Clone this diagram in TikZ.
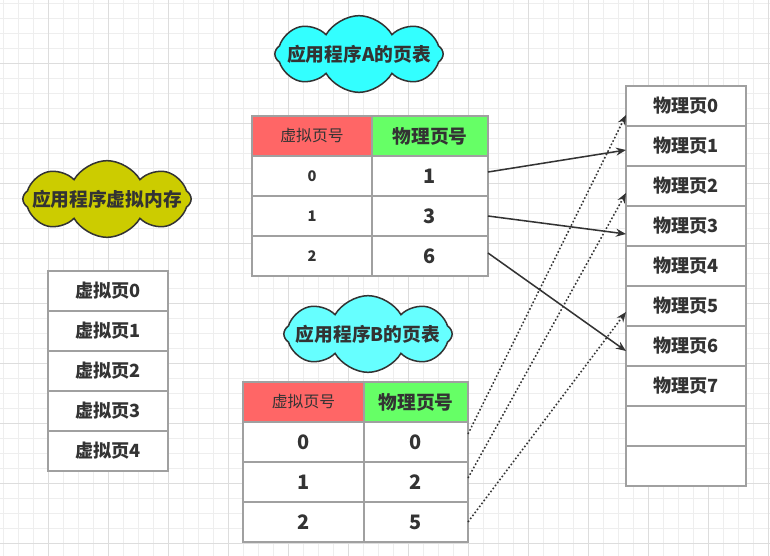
\documentclass[tikz,border=0pt]{standalone}
\usepackage{fontspec}
\setmainfont{Noto Sans CJK SC}
\usetikzlibrary{positioning, shapes.symbols, arrows.meta}

\definecolor{txtgray}{HTML}{333333}
\definecolor{cellline}{HTML}{A0A0A0}
\definecolor{gridminor}{HTML}{EEEEEE}
\definecolor{gridmajor}{HTML}{DDDDDD}
\definecolor{headred}{HTML}{FF6666}
\definecolor{headgreen}{HTML}{66FF66}
\definecolor{cloudcyan}{HTML}{33FFFF}
\definecolor{cloudcyanb}{HTML}{66FFFF}
\definecolor{cloudolive}{HTML}{CCCC00}

\tikzset{
  cell/.style={rectangle, draw=cellline, line width=1.3pt, fill=white,
    minimum width=3.6cm, minimum height=1.2cm, inner sep=0pt, outer sep=0pt,
    text=txtgray, font=\fontsize{15.5}{18}\selectfont\bfseries},
  headv/.style={cell, fill=headred, font=\fontsize{13.5}{16}\selectfont},
  headp/.style={cell, fill=headgreen, font=\fontsize{16}{19}\selectfont\bfseries},
  numbig/.style={cell, font=\fontsize{17}{20}\selectfont\bfseries},
  numsmall/.style={cell, font=\fontsize{12.5}{15}\selectfont\bfseries},
  bubble/.style={cloud, cloud puffs=8, cloud puff arc=120, aspect=2.2,
    draw=txtgray, line width=1.3pt, minimum width=5.05cm,
    minimum height=2.3cm, inner sep=0pt, text=txtgray,
    font=\fontsize{16}{19}\selectfont\bfseries},
  link/.style={draw=txtgray, line width=1.3pt,
    -{Stealth[length=3mm, width=2.4mm]}},
  dotlink/.style={link, dash pattern=on 1.4pt off 1.8pt},
}

\begin{document}
\begin{tikzpicture}[x=0.03cm, y=-0.03cm]

    \useasboundingbox (0,0) rectangle (770,556);
    \fill[white] (0,0) rectangle (770,556);

    % background grid
    \foreach \x in {3,18,...,768}
      \draw[gridminor, line width=0.85pt] (\x,0) -- (\x,556);
    \foreach \y in {3,18,...,553}
      \draw[gridminor, line width=0.85pt] (0,\y) -- (770,\y);
    \foreach \x in {48,108,...,768}
      \draw[gridmajor, line width=0.85pt] (\x,0) -- (\x,556);
    \foreach \y in {63,123,...,543}
      \draw[gridmajor, line width=0.85pt] (0,\y) -- (770,\y);

    % clouds
    \node[bubble, fill=cloudcyan] (cloudA) at (359,54)
      {\makebox[0pt]{应用程序A的页表}};
    \node[bubble, fill=cloudcyanb] (cloudB) at (368,334)
      {\makebox[0pt]{应用程序B的页表}};
    \node[bubble, fill=cloudolive] (cloudV) at (107,199)
      {\makebox[0pt]{应用程序虚拟内存}};

    % virtual memory
    \node[cell] (v0) at (108,291) {虚拟页0};
    \foreach \i [count=\j from 0] in {1,...,4}
      \node[cell, below=0pt of v\j] (v\i) {虚拟页\i};

    % physical memory
    \node[cell] (p0) at (686,106) {物理页0};
    \foreach \i [count=\j from 0] in {1,...,7}
      \node[cell, below=0pt of p\j] (p\i) {物理页\i};
    \foreach \i [count=\j from 7] in {8,9}
      \node[cell, below=0pt of p\j] (p\i) {};

    % page table A
    \node[headv] (ah1) at (312,136) {虚拟页号};
    \node[headp, minimum width=3.48cm, right=0pt of ah1] (ah2) {物理页号};
    \node[numsmall, below=0pt of ah1] (av0) {0};
    \node[numsmall, below=0pt of av0] (av1) {1};
    \node[numsmall, below=0pt of av1] (av2) {2};
    \node[numbig, minimum width=3.48cm, below=0pt of ah2] (ap0) {1};
    \node[numbig, minimum width=3.48cm, below=0pt of ap0] (ap1) {3};
    \node[numbig, minimum width=3.48cm, below=0pt of ap1] (ap2) {6};

    % page table B
    \node[headv, minimum width=3.63cm] (bh1) at (303.5,402) {虚拟页号};
    \node[headp, minimum width=3.12cm, right=0pt of bh1] (bh2) {物理页号};
    \node[numbig, minimum width=3.63cm, below=0pt of bh1] (bv0) {0};
    \node[numbig, minimum width=3.63cm, below=0pt of bv0] (bv1) {1};
    \node[numbig, minimum width=3.63cm, below=0pt of bv1] (bv2) {2};
    \node[numbig, minimum width=3.12cm, below=0pt of bh2] (bp0) {0};
    \node[numbig, minimum width=3.12cm, below=0pt of bp0] (bp1) {2};
    \node[numbig, minimum width=3.12cm, below=0pt of bp1] (bp2) {5};

    % mappings
    \draw[link] ([yshift=0.12cm]ap0.east) -- ([yshift=-0.12cm]p1.west);
    \draw[link] (ap1.east) -- ([yshift=-0.24cm]p3.west);
    \draw[link] ([yshift=0.09cm]ap2.east) -- ([yshift=-0.15cm]p6.west);

    \draw[dotlink] ([yshift=0.24cm]bp0.east) -- ([yshift=-0.27cm]p0.west);
    \draw[dotlink] ([yshift=0.12cm]bp1.east) -- ([yshift=-0.21cm]p2.west);
    \draw[dotlink] (bp2.east) -- ([yshift=-0.18cm]p5.west);
\end{tikzpicture}
\end{document}
